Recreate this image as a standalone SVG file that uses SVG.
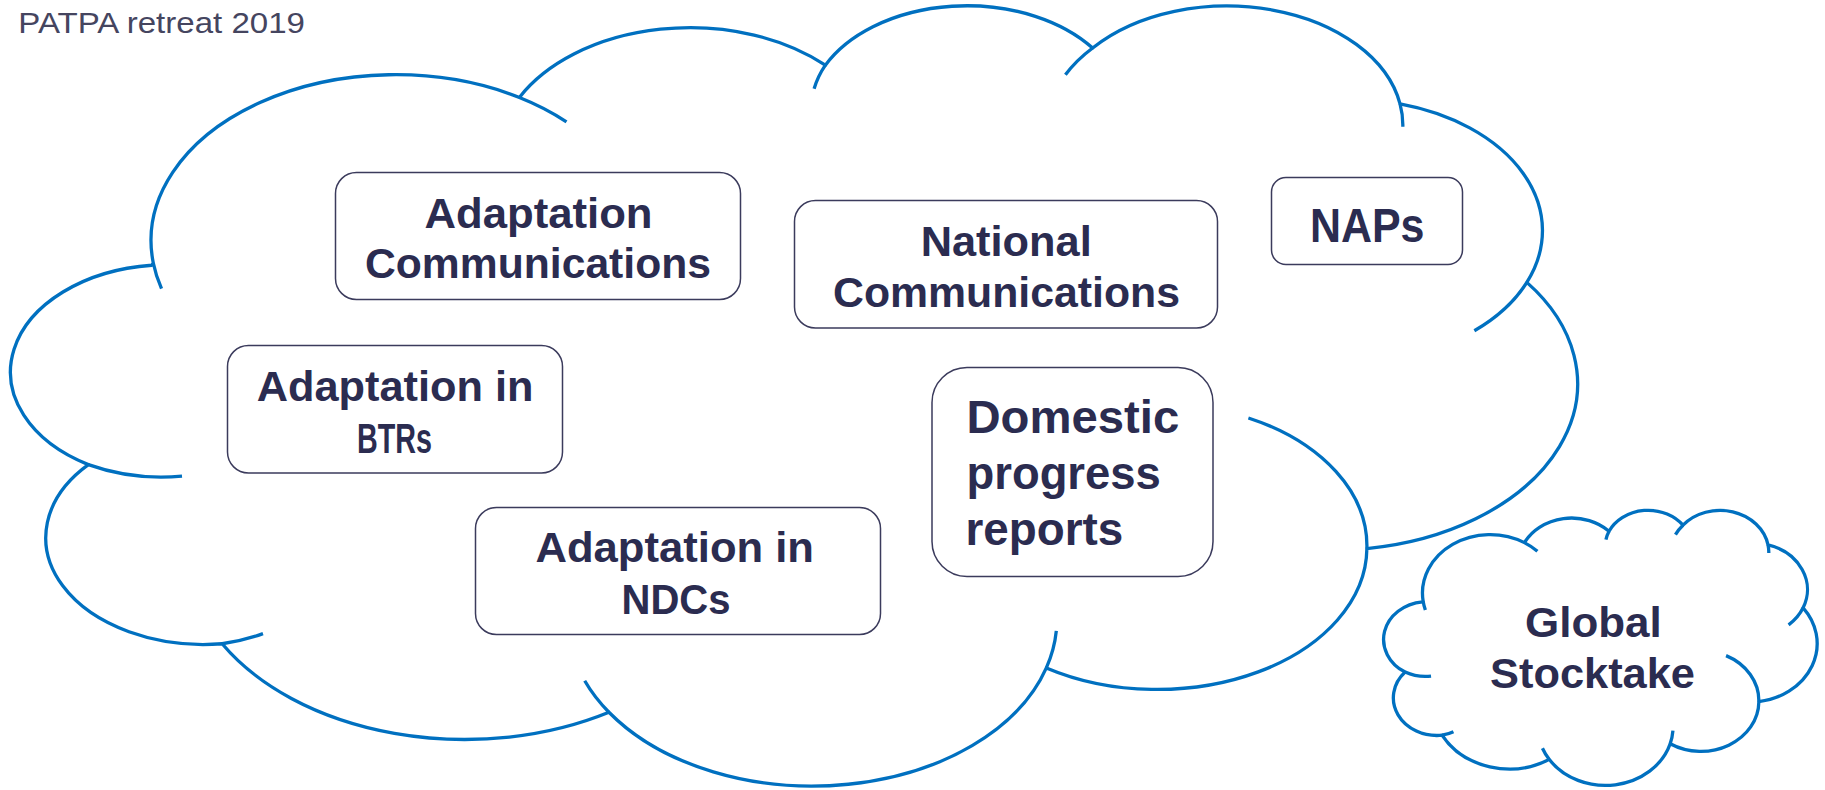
<svg xmlns="http://www.w3.org/2000/svg" width="1825" height="790" viewBox="0 0 1825 790">
<style>
.cloud{fill:#ffffff;stroke:#0070C0;stroke-width:3.3;stroke-linejoin:round}
.stub{fill:none;stroke:#0070C0;stroke-width:3.3}
.box{fill:#ffffff;stroke:#3B3B5C;stroke-width:1.5}
.t{font-family:"Liberation Sans",Arial,sans-serif;font-weight:bold;fill:#2B2C50}
.title{font-family:"Liberation Sans",Arial,sans-serif;font-weight:normal;fill:#45455F;font-size:29px}
</style>

<text id="title" class="title" x="18.3" y="33.3" textLength="286.7" lengthAdjust="spacingAndGlyphs">PATPA retreat 2019</text>

<g id="big-cloud" transform="translate(12,3.5) scale(0.0362269,0.0180556)">
<path class="cloud" vector-effect="non-scaling-stroke" d="M3900,14370 A6753,9190 0 0 1 14006,5203 A5333,7267 0 0 1 22452,3417 A4365,5945 0 0 1 29830,2466 A4857,6595 0 0 1 38315,5561 A5333,7273 0 0 1 41815,15445 A6775,9220 0 0 1 37400,30187 A5785,7867 0 0 1 28552,36798 A6752,9215 0 0 1 16478,39252 A7720,10543 0 0 1 5801,35460 A4360,5918 0 0 1 2108,25540 A4345,5945 0 0 1 3858,14496 Z"/>
<path class="stub" vector-effect="non-scaling-stroke" d="M4693,26177 A4345,5945 0 0 1 2108,25540 M6928,34899 A4360,5918 0 0 1 5801,35460 M16478,39252 A6752,9215 0 0 1 15809,37509 M28827,34751 A6752,9215 0 0 1 28552,36798 M34129,22954 A5785,7867 0 0 1 37400,30187 M41815,15445 A5333,7273 0 0 1 40367,18122 M38315,5561 A4857,6595 0 0 1 38392,6825 M29078,3952 A4857,6595 0 0 1 29830,2466 M22141,4720 A4365,5945 0 0 1 22452,3417 M14006,5203 A6753,9190 0 0 1 15306,6552 M4127,15789 A6753,9190 0 0 1 3900,14370"/>
</g>

<g id="adaptation-communications">
<rect class="box" x="335.5" y="172.5" width="405" height="127" rx="21" ry="21"/>
<text class="t" font-size="42" x="424.5" y="227.7" textLength="228" lengthAdjust="spacingAndGlyphs">Adaptation</text>
<text class="t" font-size="42" x="365" y="278.3" textLength="346" lengthAdjust="spacingAndGlyphs">Communications</text>
</g>

<g id="national-communications">
<rect class="box" x="794.5" y="200.5" width="423" height="127.5" rx="21" ry="21"/>
<text class="t" font-size="42" x="920.7" y="255.5" textLength="171" lengthAdjust="spacingAndGlyphs">National</text>
<text class="t" font-size="42" x="833" y="306.5" textLength="347" lengthAdjust="spacingAndGlyphs">Communications</text>
</g>

<g id="naps">
<rect class="box" x="1271.5" y="177.5" width="191" height="87" rx="14.5" ry="14.5"/>
<text class="t" font-size="48" x="1310" y="241.5" textLength="114.5" lengthAdjust="spacingAndGlyphs">NAPs</text>
</g>

<g id="adaptation-btrs">
<rect class="box" x="227.5" y="345.5" width="335" height="127.5" rx="21" ry="21"/>
<text class="t" font-size="42" x="256.7" y="400.7" textLength="276.7" lengthAdjust="spacingAndGlyphs">Adaptation in</text>
<text class="t" font-size="42" x="357" y="452.5" textLength="75" lengthAdjust="spacingAndGlyphs">BTRs</text>
</g>

<g id="adaptation-ndcs">
<rect class="box" x="475.5" y="507.5" width="405" height="127" rx="21" ry="21"/>
<text class="t" font-size="42" x="535.5" y="562" textLength="278.5" lengthAdjust="spacingAndGlyphs">Adaptation in</text>
<text class="t" font-size="42" x="621.5" y="613.5" textLength="109" lengthAdjust="spacingAndGlyphs">NDCs</text>
</g>

<g id="domestic-progress-reports">
<rect class="box" x="932" y="367.5" width="281" height="209" rx="35" ry="35"/>
<text class="t" font-size="46" x="966.5" y="433" textLength="212.7" lengthAdjust="spacingAndGlyphs">Domestic</text>
<text class="t" font-size="46" x="966.5" y="489" textLength="194.3" lengthAdjust="spacingAndGlyphs">progress</text>
<text class="t" font-size="46" x="965.5" y="545" textLength="157.7" lengthAdjust="spacingAndGlyphs">reports</text>
</g>

<g id="global-stocktake">
<g transform="translate(1384,509.5) scale(0.0100231,0.0063657)">
<path class="cloud" vector-effect="non-scaling-stroke" d="M3900,14370 A6753,9190 0 0 1 14006,5203 A5333,7267 0 0 1 22452,3417 A4365,5945 0 0 1 29830,2466 A4857,6595 0 0 1 38315,5561 A5333,7273 0 0 1 41815,15445 A6775,9220 0 0 1 37400,30187 A5785,7867 0 0 1 28552,36798 A6752,9215 0 0 1 16478,39252 A7720,10543 0 0 1 5801,35460 A4360,5918 0 0 1 2108,25540 A4345,5945 0 0 1 3858,14496 Z"/>
<path class="stub" vector-effect="non-scaling-stroke" d="M4693,26177 A4345,5945 0 0 1 2108,25540 M6928,34899 A4360,5918 0 0 1 5801,35460 M16478,39252 A6752,9215 0 0 1 15809,37509 M28827,34751 A6752,9215 0 0 1 28552,36798 M34129,22954 A5785,7867 0 0 1 37400,30187 M41815,15445 A5333,7273 0 0 1 40367,18122 M38315,5561 A4857,6595 0 0 1 38392,6825 M29078,3952 A4857,6595 0 0 1 29830,2466 M22141,4720 A4365,5945 0 0 1 22452,3417 M14006,5203 A6753,9190 0 0 1 15306,6552 M4127,15789 A6753,9190 0 0 1 3900,14370"/>
</g>
<text class="t" font-size="42" x="1525" y="636.7" textLength="136.7" lengthAdjust="spacingAndGlyphs">Global</text>
<text class="t" font-size="42" x="1490" y="687.7" textLength="205" lengthAdjust="spacingAndGlyphs">Stocktake</text>
</g>

<g id="connectors"></g>
</svg>
